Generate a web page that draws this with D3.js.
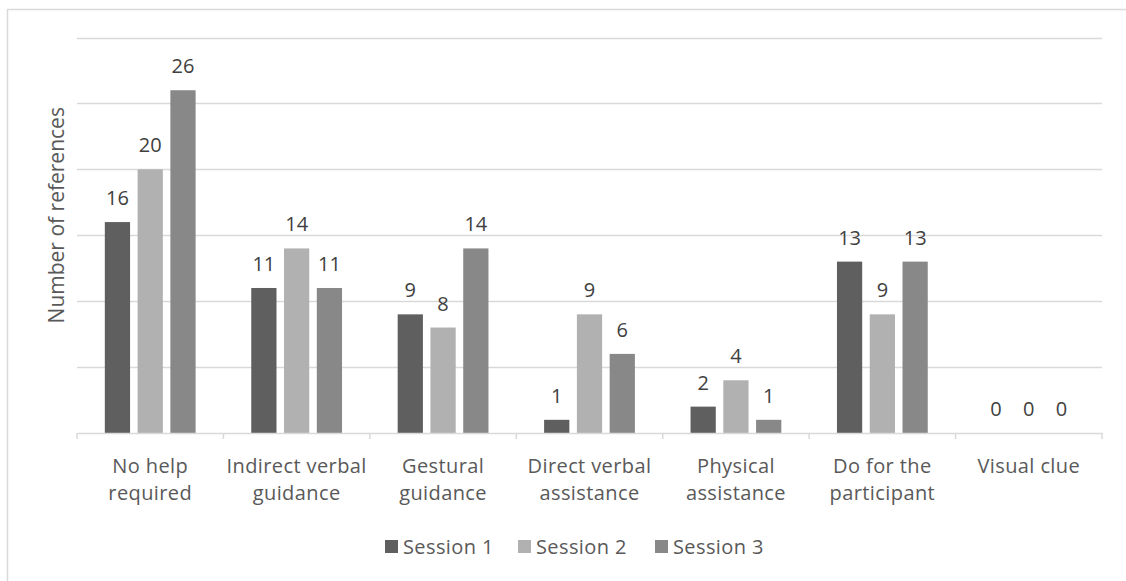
<!DOCTYPE html>
<html>
<head>
<meta charset="utf-8">
<script src="https://cdn.jsdelivr.net/npm/d3@7"></script>
<style>
  html, body { margin: 0; padding: 0; background: #fff; }
  svg { display: block; font-family: "Open Sans", "Noto Sans", sans-serif; }
</style>
</head>
<body>
<svg id="chart" width="1126" height="581"></svg>
<script>
const categories = [
  ["No help", "required"],
  ["Indirect verbal", "guidance"],
  ["Gestural", "guidance"],
  ["Direct verbal", "assistance"],
  ["Physical", "assistance"],
  ["Do for the", "participant"],
  ["Visual clue"]
];
const seriesNames = ["Session 1", "Session 2", "Session 3"];
const session1 = [16, 11, 9, 1, 2, 13, 0];
const session2 = [20, 14, 8, 9, 4, 9, 0];
const session3 = [26, 11, 14, 6, 1, 13, 0];
const yTicks = [0, 5, 10, 15, 20, 25, 30];
const yTitle = "Number of references";

const seriesValues = [session1, session2, session3];
const colors = ["#5f5f5f", "#b1b1b1", "#888888"];

const W = 1126, H = 581;
const margin = { left: 77, right: 24, top: 37.5, bottom: 148 };
const svg = d3.select("#chart");

// outer frame
svg.append("rect")
  .attr("x", 7.5).attr("y", 9.5)
  .attr("width", W + 10).attr("height", H + 10)
  .attr("fill", "none").attr("stroke", "#d9d9d9").attr("stroke-width", 1.5);

const catKeys = categories.map(c => c.join(" "));
const x0 = d3.scaleBand().domain(catKeys).range([margin.left, W - margin.right]).padding(0);
const bw = x0.bandwidth();
const x1 = d3.scaleBand().domain(seriesNames).range([bw * 0.19, bw * 0.81]).paddingInner(0.23);
const y = d3.scaleLinear().domain([0, 30]).range([H - margin.bottom, margin.top]);

// gridlines
svg.append("g")
  .selectAll("line").data(yTicks.filter(t => t > 0)).join("line")
  .attr("x1", margin.left).attr("x2", W - margin.right)
  .attr("y1", d => Math.round(y(d)) + 0.5).attr("y2", d => Math.round(y(d)) + 0.5)
  .attr("stroke", "#d9d9d9").attr("stroke-width", 1.5);

// bars
const groups = svg.append("g").selectAll("g").data(catKeys).join("g")
  .attr("transform", d => `translate(${x0(d)},0)`);

groups.selectAll("rect")
  .data((d, i) => seriesNames.map((s, j) => ({ s, j, v: seriesValues[j][i] })))
  .join("rect")
  .attr("x", d => x1(d.s))
  .attr("width", x1.bandwidth())
  .attr("y", d => y(d.v))
  .attr("height", d => y(0) - y(d.v))
  .attr("fill", d => colors[d.j]);

groups.selectAll("text.val")
  .data((d, i) => seriesNames.map((s, j) => ({ s, j, v: seriesValues[j][i] })))
  .join("text")
  .attr("class", "val")
  .attr("x", d => x1(d.s) + x1.bandwidth() / 2)
  .attr("y", d => y(d.v) - 17)
  .attr("text-anchor", "middle")
  .attr("font-size", 20)
  .attr("fill", "#404040")
  .text(d => d.v);

// x axis
const xAxis = d3.axisBottom(x0).tickSize(0).tickFormat("");
const gx = svg.append("g").attr("transform", `translate(0,${y(0)})`).call(xAxis);
gx.select(".domain").attr("stroke", "#d9d9d9").attr("stroke-width", 1.5);
gx.selectAll(".tick").remove();
const bounds = catKeys.map(k => x0(k)).concat([W - margin.right]);
gx.selectAll("line.bound").data(bounds).join("line")
  .attr("class", "bound")
  .attr("x1", d => d).attr("x2", d => d)
  .attr("y1", 0).attr("y2", 6)
  .attr("stroke", "#d9d9d9").attr("stroke-width", 1.5);

// category labels
const lab = svg.append("g").selectAll("text").data(categories).join("text")
  .attr("x", (d, i) => x0(catKeys[i]) + bw / 2)
  .attr("y", 473)
  .attr("text-anchor", "middle")
  .attr("font-size", 20)
  .attr("letter-spacing", 0.4)
  .attr("fill", "#595959");
lab.selectAll("tspan").data(d => d).join("tspan")
  .attr("x", function() { return this.parentNode.getAttribute("x"); })
  .attr("dy", (d, i) => i === 0 ? 0 : 27)
  .text(d => d);

// y title
svg.append("text")
  .attr("transform", `translate(64,${(y(0) + y(30)) / 2 - 20}) rotate(-90)`)
  .attr("text-anchor", "middle")
  .attr("font-size", 21)
  .attr("fill", "#595959")
  .text(yTitle);

// legend
const legendX = [385, 518, 655];
const lg = svg.append("g").selectAll("g").data(seriesNames).join("g")
  .attr("transform", (d, i) => `translate(${legendX[i]},540)`);
lg.append("rect").attr("width", 13).attr("height", 13).attr("fill", (d, i) => colors[i]);
lg.append("text").attr("x", 18).attr("y", 13.5)
  .attr("font-size", 20).attr("letter-spacing", 0.4)
  .attr("fill", "#595959").text(d => d);
</script>
</body>
</html>
